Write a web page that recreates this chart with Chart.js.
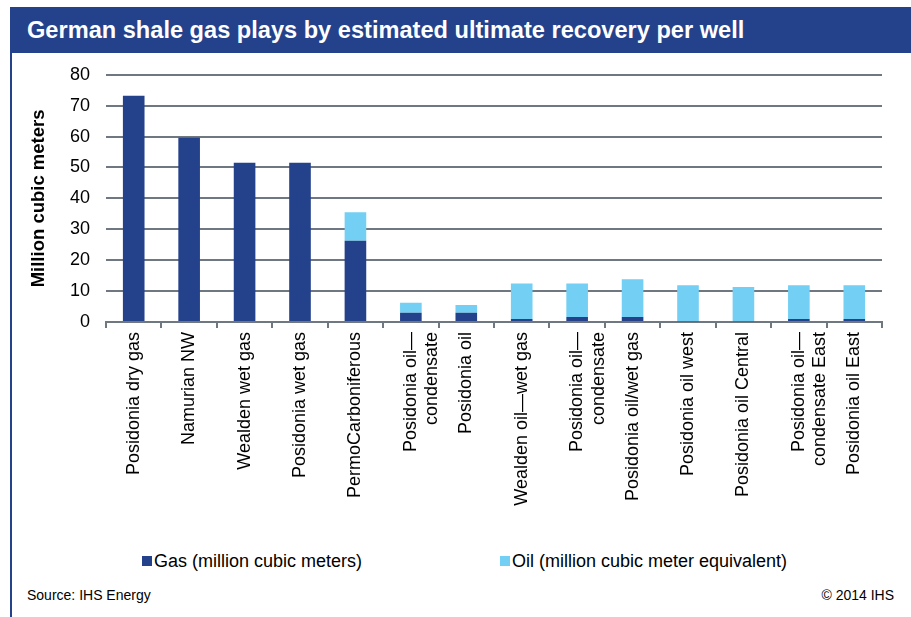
<!DOCTYPE html>
<html>
<head>
<meta charset="utf-8">
<script src="https://cdn.jsdelivr.net/npm/chart.js@4"></script>
<style>
  html, body { margin: 0; padding: 0; background: #fff; }
  body { width: 911px; height: 617px; position: relative; overflow: hidden; font-family: "Liberation Sans", Arial, sans-serif; }
  #title {
    position: absolute; left: 10px; top: 7px; width: 901px; height: 46px;
    background: #24418b; color: #fff; font-weight: bold; font-size: 23.6px;
    line-height: 46px; padding-left: 17px; box-sizing: border-box; white-space: nowrap; z-index: 2;
  }
  #leftline { position: absolute; left: 10px; top: 53px; width: 2px; height: 564px; background: #24418b; }
  #wrap { position: absolute; left: 12px; top: 48px; width: 899px; height: 472px; }
  .foot { position: absolute; top: 587px; font-size: 14px; color: #000; }
  .leg { position: absolute; top: 551px; font-size: 18px; color: #000; white-space: nowrap; line-height: 21px; }
  .leg i { display: inline-block; width: 10px; height: 10px; margin-right: 2px; vertical-align: 1px; }
</style>
</head>
<body>
<div id="title">German shale gas plays by estimated ultimate recovery per well</div>
<div id="leftline"></div>
<div id="wrap"><canvas id="chart"></canvas></div>
<div id="legend"></div>
<div class="foot" style="left:27px">Source: IHS Energy</div>
<div class="foot" style="right:17px">© 2014 IHS</div>
<script>
const categories = [
  'Posidonia dry gas', 'Namurian NW', 'Wealden wet gas', 'Posidonia wet gas',
  'PermoCarboniferous', ['Posidonia oil—', 'condensate'], 'Posidonia oil',
  'Wealden oil—wet gas', ['Posidonia oil—', 'condensate'], 'Posidonia oil/wet gas',
  'Posidonia oil west', 'Posidonia oil Central', ['Posidonia oil—', 'condensate East'],
  'Posidonia oil East'
];
const gasValues = [73.2, 59.6, 51.5, 51.5, 26.3, 3.0, 3.0, 1.0, 1.6, 1.6, 0.2, 0.2, 1.0, 1.0];
const oilValues = [0, 0, 0, 0, 9.2, 3.2, 2.5, 11.5, 10.9, 12.2, 11.7, 11.1, 10.9, 10.9];
const yTicks = [0, 10, 20, 30, 40, 50, 60, 70, 80];
const legendX = [142, 500];

const gridGray = '#6f7780';

const chart = new Chart(document.getElementById('chart'), {
  type: 'bar',
  data: {
    labels: categories,
    datasets: [
      {
        label: 'Gas (million cubic meters)',
        data: gasValues,
        backgroundColor: '#24418b',
        barPercentage: 0.39,
        categoryPercentage: 1
      },
      {
        label: 'Oil (million cubic meter equivalent)',
        data: oilValues,
        backgroundColor: '#73cff3',
        barPercentage: 0.39,
        categoryPercentage: 1
      }
    ]
  },
  options: {
    responsive: true,
    maintainAspectRatio: false,
    animation: false,
    layout: { padding: { left: 4, right: 29, top: 7, bottom: 0 } },
    plugins: {
      tooltip: { enabled: false },
      legend: { display: false }
    },
    scales: {
      x: {
        stacked: true,
        border: { display: true, color: gridGray, width: 2 },
        grid: { display: true, drawOnChartArea: false, drawTicks: true, tickLength: 6, color: gridGray, lineWidth: 2, offset: true },
        ticks: {
          color: '#000',
          font: { family: 'Liberation Sans', size: 18 },
          minRotation: 90,
          maxRotation: 90,
          padding: 4,
          autoSkip: false
        },
        afterFit: (scale) => { scale.height = 198; }
      },
      y: {
        stacked: true,
        min: 0,
        max: 80,
        border: { display: false },
        grid: { color: gridGray, lineWidth: 2, drawTicks: false },
        afterBuildTicks: (scale) => { scale.ticks = yTicks.map(v => ({ value: v })); },
        ticks: {
          color: '#000',
          padding: 16,
          font: { family: 'Liberation Sans', size: 18 }
        },
        title: {
          display: true,
          text: 'Million cubic meters',
          color: '#000',
          padding: { top: 12, bottom: 0 },
          font: { family: 'Liberation Sans', size: 18.5, weight: 'bold' }
        },
        afterFit: (scale) => { scale.width = 90; }
      }
    }
  }
});

// HTML legend built from the chart's datasets
const legendEl = document.getElementById('legend');
chart.data.datasets.forEach((ds, i) => {
  const item = document.createElement('div');
  item.className = 'leg';
  item.style.left = legendX[i] + 'px';
  item.innerHTML = '<i style="background:' + ds.backgroundColor + '"></i>' + ds.label;
  legendEl.appendChild(item);
});
</script>
</body>
</html>
